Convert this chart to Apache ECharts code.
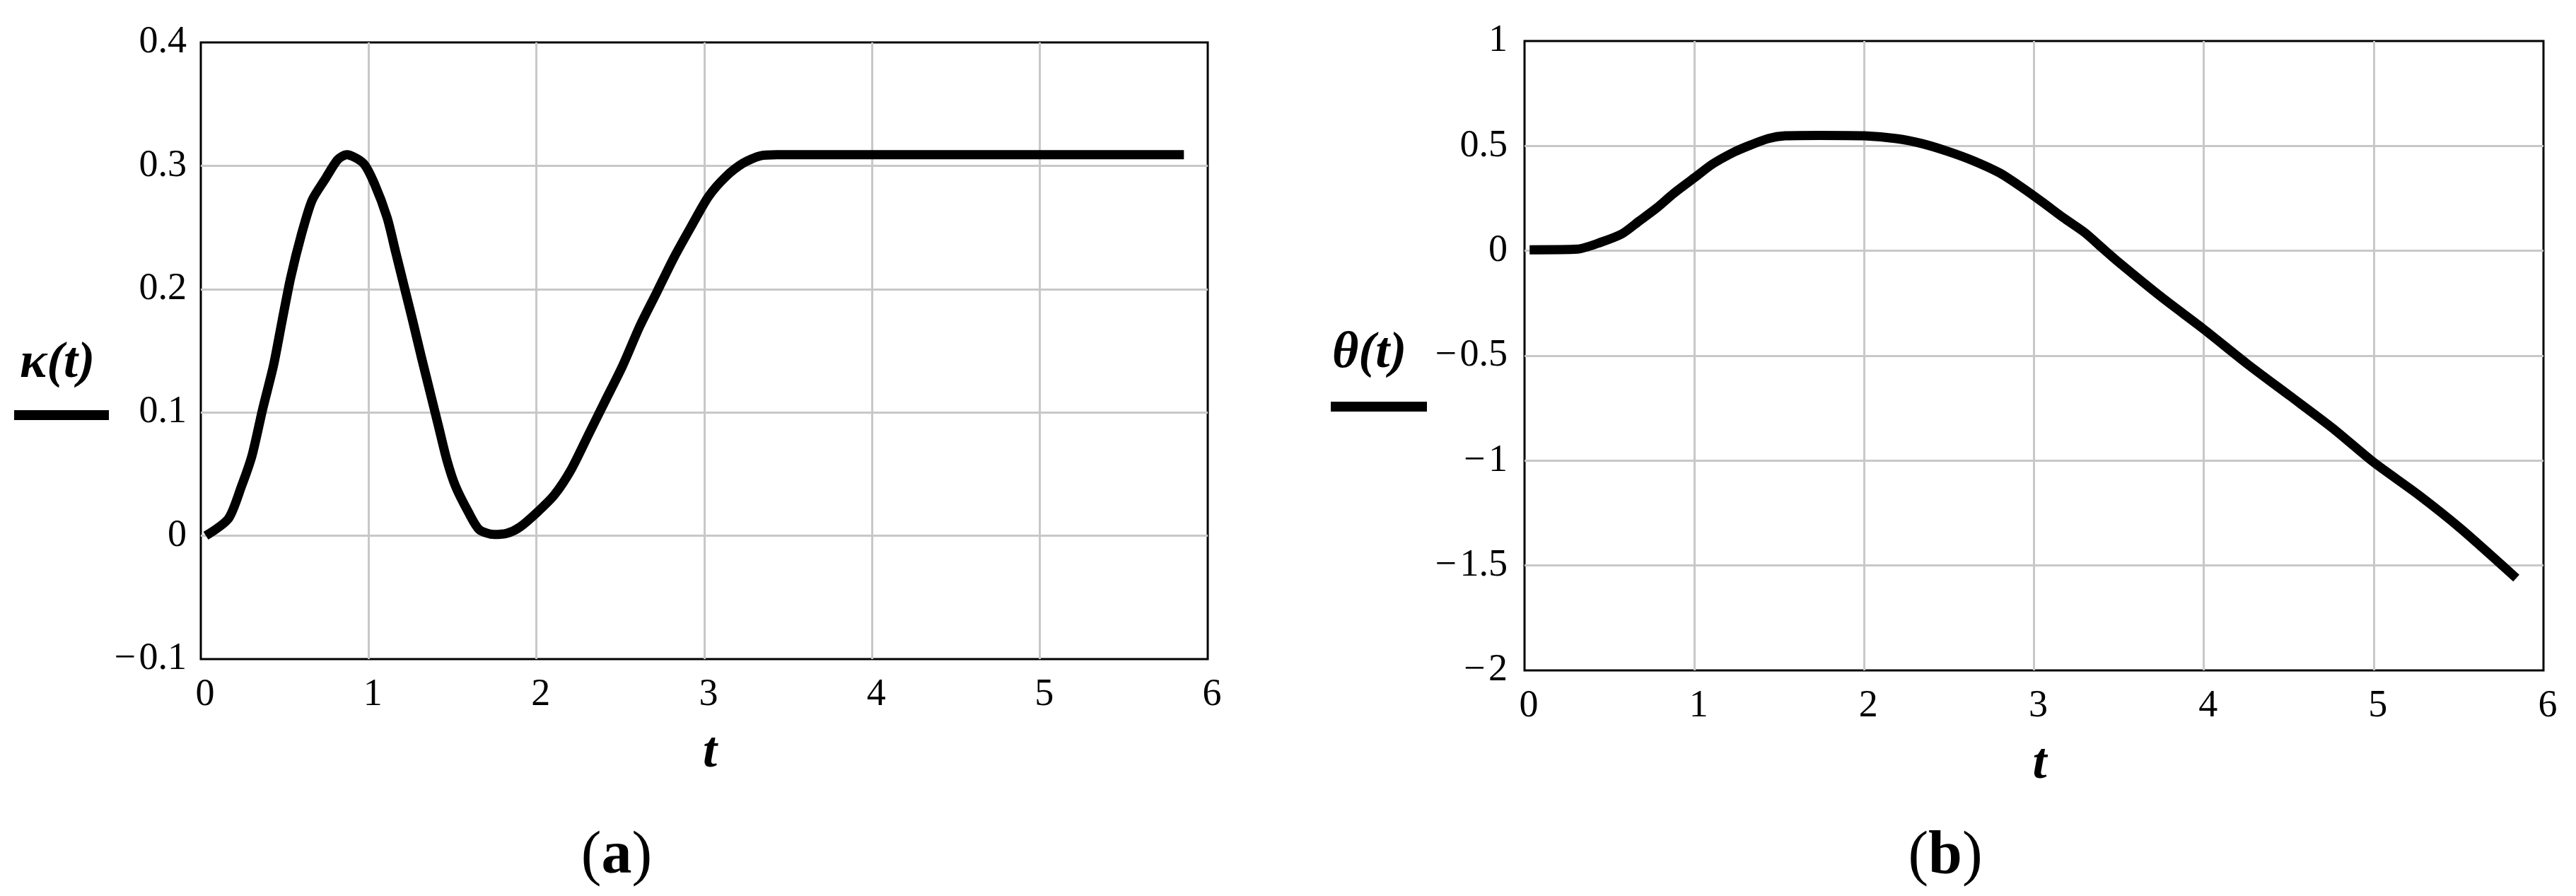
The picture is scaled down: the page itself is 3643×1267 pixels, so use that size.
<!DOCTYPE html>
<html>
<head>
<meta charset="utf-8">
<script src="https://cdn.jsdelivr.net/npm/echarts@6.0.0/dist/echarts.min.js"></script>
<style>
html,body{margin:0;padding:0;background:#fff;}
#c{width:3643px;height:1267px;}
</style>
</head>
<body>
<div id="c"></div>
<script>
// ---- data ----
const kappaT = [0.03, 0.165, 0.242, 0.305, 0.369, 0.433, 0.484, 0.535, 0.599, 0.663, 0.740, 0.816, 0.870, 0.969, 1.033, 1.110, 1.161, 1.212, 1.263, 1.314, 1.365, 1.416, 1.467, 1.518, 1.595, 1.659, 1.748, 1.825, 1.901, 2.004, 2.106, 2.208, 2.310, 2.412, 2.514, 2.616, 2.719, 2.821, 2.923, 3.025, 3.127, 3.230, 3.332, 3.434, 5.858];
const kappaV = [0.000, 0.014, 0.040, 0.065, 0.103, 0.138, 0.174, 0.209, 0.244, 0.272, 0.289, 0.305, 0.309, 0.302, 0.286, 0.258, 0.230, 0.202, 0.174, 0.145, 0.117, 0.089, 0.061, 0.040, 0.019, 0.005, 0.001, 0.002, 0.007, 0.019, 0.033, 0.054, 0.082, 0.110, 0.138, 0.170, 0.198, 0.226, 0.251, 0.275, 0.291, 0.302, 0.308, 0.309, 0.309];

const thetaT = [0.03, 0.311, 0.450, 0.576, 0.677, 0.778, 0.879, 1.005, 1.106, 1.232, 1.333, 1.434, 1.535, 1.736, 2.000, 2.190, 2.342, 2.493, 2.644, 2.796, 2.922, 3.048, 3.174, 3.300, 3.401, 3.502, 3.751, 4.000, 4.254, 4.506, 4.758, 5.000, 5.262, 5.514, 5.840];
const thetaV = [0.005, 0.008, 0.041, 0.082, 0.143, 0.204, 0.274, 0.351, 0.413, 0.470, 0.505, 0.535, 0.548, 0.550, 0.548, 0.535, 0.511, 0.474, 0.429, 0.372, 0.306, 0.233, 0.157, 0.086, 0.014, -0.057, -0.221, -0.374, -0.538, -0.691, -0.845, -1.008, -1.162, -1.325, -1.560];

const xTicks = [0, 1, 2, 3, 4, 5, 6];
const kappaTicks = [-0.1, 0, 0.1, 0.2, 0.3, 0.4];
const thetaTicks = [-2, -1.5, -1, -0.5, 0, 0.5, 1];

const kappaLabel = 'κ(t)';
const thetaLabel = 'θ(t)';
const xName = 't';
const captionA = 'a';
const captionB = 'b';

// ---- chart ----
const FONT = '"Liberation Serif", "Times New Roman", serif';
function fmt(v) {
  const a = Number(Math.abs(v).toFixed(2)).toString();
  return v < -1e-9 ? '\u2212\u200A' + a : a;
}
function pairs(xs, ys) { return xs.map((x, i) => [x, ys[i]]); }

const gridLine = { show: true, showMinLine: false, showMaxLine: false, lineStyle: { color: '#c8c8c8', width: 3 } };

const xAxisBase = (gi) => ({
  type: 'value', gridIndex: gi,
  min: xTicks[0], max: xTicks[xTicks.length - 1], interval: 1,
  name: xName, nameLocation: 'middle', nameGap: 97,
  nameTextStyle: { fontFamily: FONT, fontSize: 72, fontWeight: 'bold', fontStyle: 'italic', color: '#000', padding: [0, 0, 0, 16] },
  axisLine: { show: false }, axisTick: { show: false },
  axisLabel: { fontFamily: FONT, fontSize: 54, color: '#000', margin: 24, align: 'center', padding: [0, 0, 0, 12], formatter: fmt },
  splitLine: gridLine
});
const yAxisBase = (gi, ticks, step, margin) => ({
  type: 'value', gridIndex: gi,
  min: ticks[0], max: ticks[ticks.length - 1], interval: step,
  axisLine: { show: false }, axisTick: { show: false },
  axisLabel: { fontFamily: FONT, fontSize: 54, color: '#000', margin: margin, padding: [18, 0, 0, 0], formatter: fmt },
  splitLine: gridLine
});

const lineStyle = { color: '#000', width: 13, cap: 'butt', join: 'round' };

const option = {
  animation: false,
  backgroundColor: '#fff',
  grid: [
    { left: 284, right: 3643 - 1708, top: 60, bottom: 1267 - 932, show: true, borderColor: '#000', borderWidth: 3, backgroundColor: 'transparent', containLabel: false },
    { left: 2156, right: 3643 - 3597, top: 58, bottom: 1267 - 948, show: true, borderColor: '#000', borderWidth: 3, backgroundColor: 'transparent', containLabel: false }
  ],
  xAxis: [xAxisBase(0), xAxisBase(1)],
  yAxis: [yAxisBase(0, kappaTicks, 0.1, 20), yAxisBase(1, thetaTicks, 0.5, 24)],
  series: [
    { type: 'line', xAxisIndex: 0, yAxisIndex: 0, data: pairs(kappaT, kappaV), showSymbol: false, symbol: 'none', smooth: 0.25, lineStyle: lineStyle, clip: false, z: 3 },
    { type: 'line', xAxisIndex: 1, yAxisIndex: 1, data: pairs(thetaT, thetaV), showSymbol: false, symbol: 'none', smooth: 0.25, lineStyle: lineStyle, clip: false, z: 3 }
  ],
  graphic: [
    { type: 'text', left: 28, top: 478, style: { text: kappaLabel, font: 'italic bold 72px ' + FONT, fill: '#000' } },
    { type: 'rect', shape: { x: 20, y: 580, width: 134, height: 14 }, style: { fill: '#000' } },
    { type: 'text', left: 1884, top: 464, style: { text: thetaLabel, font: 'italic bold 72px ' + FONT, fill: '#000' } },
    { type: 'rect', shape: { x: 1882, y: 568, width: 136, height: 14 }, style: { fill: '#000' } },
    { type: 'text', style: { x: 872, y: 1212, text: '{p|(}{b|' + captionA + '}{p|)}', align: 'center', verticalAlign: 'middle', textAlign: 'center', textVerticalAlign: 'middle',
        rich: { p: { fontFamily: FONT, fontSize: 86, fill: '#000', color: '#000' }, b: { fontFamily: FONT, fontSize: 86, fontWeight: 'bold', fill: '#000', color: '#000' } } } },
    { type: 'text', style: { x: 2751, y: 1212, text: '{p|(}{b|' + captionB + '}{p|)}', align: 'center', verticalAlign: 'middle', textAlign: 'center', textVerticalAlign: 'middle',
        rich: { p: { fontFamily: FONT, fontSize: 86, fill: '#000', color: '#000' }, b: { fontFamily: FONT, fontSize: 86, fontWeight: 'bold', fill: '#000', color: '#000' } } } }
  ]
};

const chart = echarts.init(document.getElementById('c'), null, { renderer: 'canvas', width: 3643, height: 1267 });
chart.setOption(option);
</script>
</body>
</html>
